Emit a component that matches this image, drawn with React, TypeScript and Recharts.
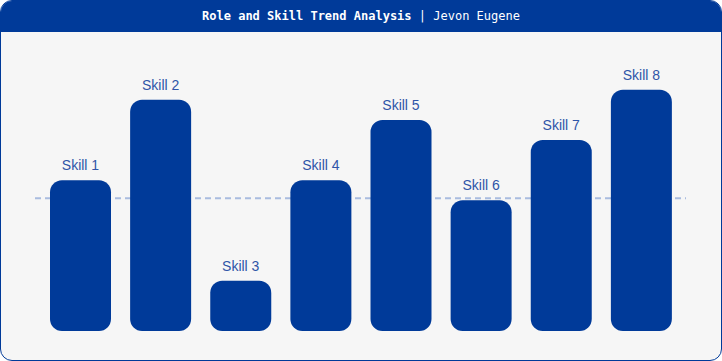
import React from 'react';
import { BarChart, Bar, XAxis, YAxis, ReferenceLine, LabelList } from 'recharts';

const skills = ['Skill 1', 'Skill 2', 'Skill 3', 'Skill 4', 'Skill 5', 'Skill 6', 'Skill 7', 'Skill 8'];
const scores = [15, 23, 5, 15, 21, 13, 19, 24];
const referenceValue = 13.2;

const data = skills.map((name, i) => ({ name, value: scores[i] }));

const BLUE = '#003a99';
const MARGIN = { top: 49.5, right: 36, bottom: 30, left: 35 };
const DOMAIN: [number, number] = [0, 28];

export default function App() {
  return (
    <div
      style={{
        position: 'absolute',
        left: 0,
        top: 0,
        width: 722,
        height: 361,
        boxSizing: 'border-box',
        border: `1.5px solid ${BLUE}`,
        borderRadius: 12,
        background: '#f6f6f6',
        overflow: 'hidden',
      }}
    >
      <div
        style={{
          height: 31,
          background: BLUE,
          color: '#ffffff',
          fontFamily: '"DejaVu Sans Mono", "Liberation Mono", monospace',
          fontSize: 12,
          lineHeight: '31px',
          textAlign: 'center',
        }}
      >
        <span style={{ fontWeight: 'bold' }}>Role and Skill Trend Analysis</span>
        <span> | Jevon Eugene</span>
      </div>
      <div style={{ position: 'absolute', left: -1.5, top: -1.5 }}>
        <BarChart width={722} height={361} data={data} margin={MARGIN} barSize={61}>
          <XAxis dataKey="name" hide padding={{ left: 5, right: 5 }} />
          <YAxis hide domain={DOMAIN} />
          <Bar dataKey="value" fill="none" isAnimationActive={false} />
          <ReferenceLine
            y={referenceValue}
            stroke="#a9bcdf"
            strokeWidth={2}
            strokeDasharray="6 4"
            ifOverflow="extendDomain"
          />
        </BarChart>
      </div>
      <div style={{ position: 'absolute', left: -1.5, top: -1.5 }}>
        <BarChart width={722} height={361} data={data} margin={MARGIN} barSize={61}>
          <XAxis dataKey="name" hide padding={{ left: 5, right: 5 }} />
          <YAxis hide domain={DOMAIN} />
          <Bar dataKey="value" fill={BLUE} radius={[12, 12, 12, 12]} isAnimationActive={false}>
            <LabelList
              dataKey="name"
              position="top"
              offset={10}
              fill="#2f55a8"
              fontSize={14}
              fontFamily='"Liberation Sans", Arial, sans-serif'
            />
          </Bar>
        </BarChart>
      </div>
    </div>
  );
}
